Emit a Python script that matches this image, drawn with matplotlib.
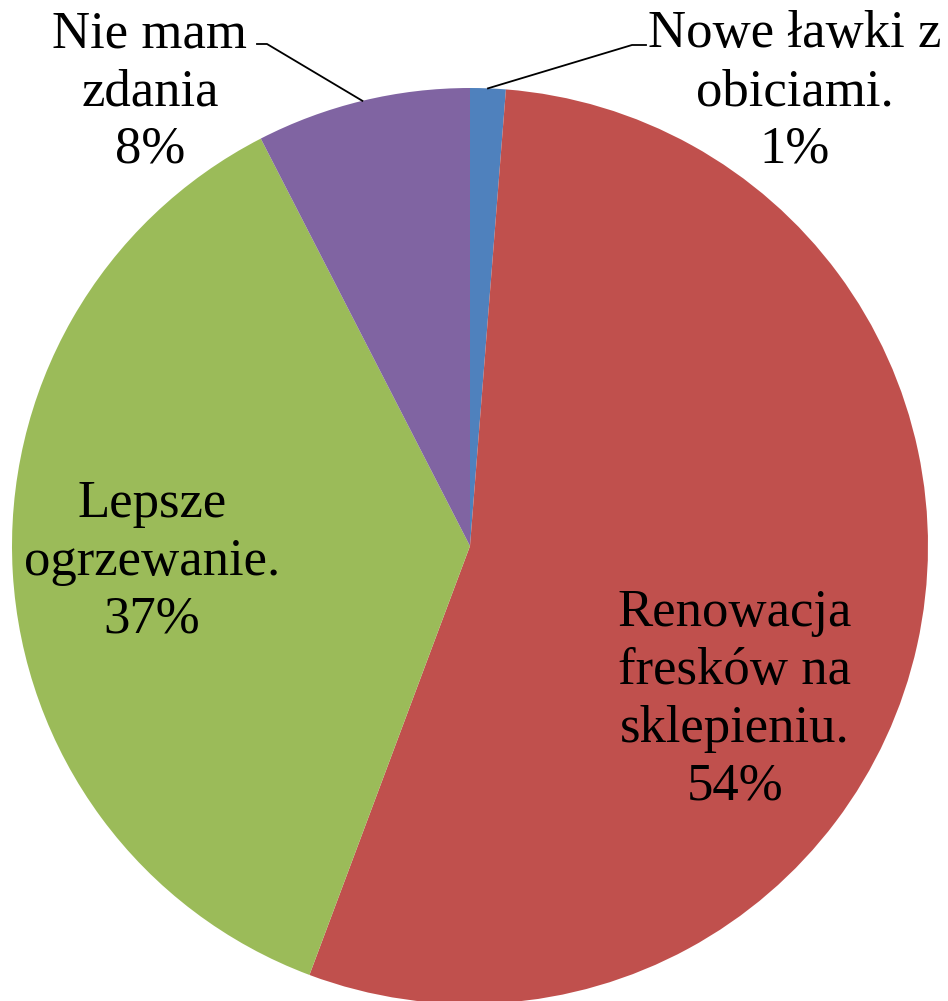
import matplotlib
matplotlib.use("Agg")
import matplotlib.pyplot as plt
import numpy as np

categories = ["Nowe ławki z\nobiciami.", "Renowacja\nfresków na\nsklepieniu.",
              "Lepsze\nogrzewanie.", "Nie mam\nzdania"]
values = [1.25, 54.45, 36.75, 7.55]
colors = ["#4F81BD", "#C0504D", "#9BBB59", "#8064A2"]

W, H = 948, 1001
cx, cy, R = 470, 546, 458

fig = plt.figure(figsize=(W / 100, H / 100), dpi=100)
ax = fig.add_axes([0, 0, 1, 1])
wedges, _ = ax.pie(values, colors=colors, startangle=90, counterclock=False,
                   radius=1.0, wedgeprops=dict(linewidth=0))
ax.set_xlim(-cx / R, (W - cx) / R)
ax.set_ylim((cy - H) / R, cy / R)
ax.set_aspect('auto')
ax.axis('off')

def px(x, y):
    return (x - cx) / R, (cy - y) / R

total = sum(values)
pcts = [f"{round(v / total * 100):.0f}%" for v in values]

font = dict(family=["Liberation Serif", "DejaVu Serif"], fontsize=38,
            color="black", linespacing=1.27)

# label positions (pixel centres of each label block)
label_pos = [(795, 92), (735, 700), (152, 562), (150, 92)]
for i, (cat, p) in enumerate(zip(categories, pcts)):
    x, y = px(*label_pos[i])
    ax.text(x, y, f"{cat}\n{p}", ha="center", va="center", **font)

# leader lines for small slices
def mid_edge(w):
    a = np.deg2rad((w.theta1 + w.theta2) / 2)
    return np.cos(a), np.sin(a)

# blue slice
ex, ey = mid_edge(wedges[0])
k1 = px(632, 45); k2 = px(646, 45)
ax.plot([ex, k1[0], k2[0]], [ey, k1[1], k2[1]], color="black", lw=1.3)
# purple slice
ex, ey = mid_edge(wedges[3])
k1 = px(267, 44); k2 = px(257, 44)
ax.plot([ex, k1[0], k2[0]], [ey, k1[1], k2[1]], color="black", lw=1.3)

fig.savefig("out.png", dpi=100)
